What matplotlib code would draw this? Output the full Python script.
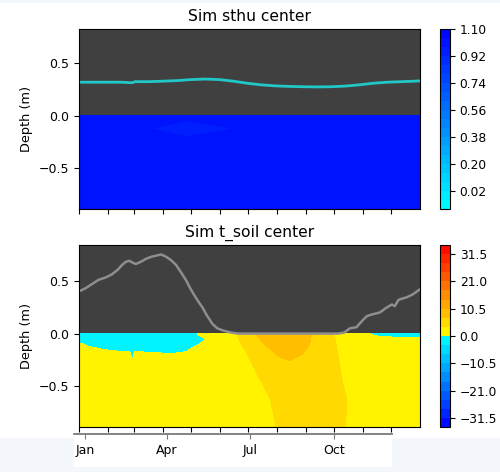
import numpy as np
import matplotlib
matplotlib.use("Agg")
import matplotlib.pyplot as plt
from matplotlib.colors import ListedColormap, LinearSegmentedColormap
from matplotlib.patches import Rectangle

# ---- time axis (day of year) ----
month_starts = [0, 31, 59, 90, 120, 151, 181, 212, 243, 273, 304, 334]
label_days = [0, 90, 181, 273]
label_names = ["Jan", "Apr", "Jul", "Oct"]

# ---- simulated soil moisture (sthu), rows = depth, cols = day ----
sthu_days = [0, 50, 115, 200, 365]
sthu_depths = [0.0, -0.12, -0.25, -0.5, -0.886]
sthu_values = [
    [1.00, 1.00, 1.00, 1.00, 1.00],
    [1.00, 1.00, 0.95, 1.00, 1.00],
    [1.00, 1.00, 1.00, 1.00, 1.00],
    [1.00, 1.00, 1.00, 1.00, 1.00],
    [1.00, 1.00, 1.00, 1.00, 1.00],
]

# water level line drawn over the sthu panel
level_days = [0, 15, 30, 45, 57, 60, 75, 90, 105, 120, 135, 150, 165, 180,
              195, 210, 225, 240, 255, 270, 285, 300, 315, 330, 345, 360, 365]
level_values = [0.32, 0.32, 0.32, 0.32, 0.315, 0.325, 0.325, 0.33, 0.335, 0.345,
                0.35, 0.345, 0.33, 0.31, 0.295, 0.285, 0.28, 0.277, 0.275, 0.277,
                0.283, 0.295, 0.31, 0.32, 0.325, 0.33, 0.333]

# ---- simulated soil temperature, one column per day ----
soil_depths = [0.0, -0.05, -0.1, -0.2, -0.3, -0.45, -0.6, -0.75, -0.886]
soil_days = [0, 10, 25, 45, 54, 57, 60, 80, 100, 115, 121, 127, 134, 142, 150,
             169, 180, 190, 200, 212, 225, 240, 249, 260, 272, 287, 300, 311,
             320, 340, 365]
soil_temp_by_day = [
    [-1.0, -0.8, 0.2, 0.6, 1.0, 1.4, 1.8, 2.0, 2.2],
    [-1.0, -0.6, -0.2, 0.8, 1.1, 1.4, 1.7, 1.9, 2.0],
    [-1.2, -0.8, -0.5, 0.5, 1.0, 1.3, 1.6, 1.8, 1.9],
    [-1.3, -1.0, -0.7, 0.3, 0.8, 1.2, 1.5, 1.7, 1.8],
    [-1.3, -1.0, -0.7, 0.3, 0.8, 1.2, 1.5, 1.7, 1.8],
    [-1.3, -1.0, -0.7, -0.3, 0.3, 1.0, 1.4, 1.6, 1.7],
    [-1.3, -1.0, -0.7, 0.3, 0.8, 1.2, 1.5, 1.7, 1.8],
    [-1.2, -1.0, -0.8, 0.2, 0.6, 1.0, 1.3, 1.5, 1.6],
    [-1.1, -1.0, -0.9, 0.1, 0.5, 0.9, 1.2, 1.4, 1.5],
    [-0.8, -0.8, -0.7, 0.3, 0.5, 0.8, 1.1, 1.3, 1.4],
    [-0.5, -0.5, -0.35, 0.65, 0.7, 0.8, 1.0, 1.2, 1.3],
    [0.05, -0.3, -0.05, 0.8, 0.8, 0.8, 1.0, 1.2, 1.3],
    [0.5, -0.1, 0.2, 0.7, 0.7, 0.8, 1.0, 1.2, 1.3],
    [1.0, 0.3, 0.3, 0.6, 0.7, 0.8, 1.0, 1.2, 1.3],
    [1.5, 1.0, 0.6, 0.5, 0.6, 0.9, 1.2, 1.4, 1.5],
    [3.55, 3.2, 2.9, 2.4, 1.9, 1.5, 1.4, 1.5, 1.6],
    [5.5, 4.8, 4.2, 3.4, 2.9, 2.3, 1.9, 1.8, 1.8],
    [7.05, 6.5, 6.0, 4.9, 3.9, 3.1, 2.6, 2.4, 2.3],
    [8.5, 7.9, 7.1, 6.0, 5.0, 3.9, 3.2, 3.0, 2.9],
    [9.5, 8.6, 7.9, 7.05, 6.0, 4.8, 4.1, 3.75, 3.55],
    [9.8, 8.9, 8.2, 7.6, 6.6, 5.3, 4.6, 4.3, 4.1],
    [8.5, 7.9, 7.6, 6.9, 6.3, 5.4, 4.9, 4.6, 4.4],
    [6.95, 6.9, 6.8, 6.3, 5.9, 5.2, 4.8, 4.6, 4.45],
    [5.5, 5.3, 5.2, 5.1, 5.0, 4.8, 4.6, 4.5, 4.4],
    [3.45, 3.7, 3.8, 4.0, 4.1, 4.2, 4.2, 4.1, 4.0],
    [2.0, 2.2, 2.3, 2.5, 2.8, 3.1, 3.45, 3.45, 3.45],
    [1.2, 1.3, 1.4, 1.5, 1.7, 2.0, 2.4, 2.6, 2.7],
    [-0.02, 0.5, 0.9, 1.4, 1.7, 2.0, 2.3, 2.5, 2.6],
    [-0.3, 0.3, 0.7, 1.2, 1.5, 1.9, 2.2, 2.4, 2.5],
    [-0.5, 0.2, 0.5, 1.0, 1.3, 1.7, 2.0, 2.2, 2.3],
    [-0.6, 0.15, 0.4, 0.8, 1.1, 1.5, 1.8, 2.0, 2.2],
]

# snow depth line drawn over the temperature panel
snow_days = [0, 7, 14, 21, 28, 35, 42, 46, 50, 54, 58, 61, 66, 72, 78, 83, 88,
             93, 98, 104, 110, 115, 119, 123, 128, 132, 137, 143, 148, 154, 160,
             166, 172, 277, 284, 290, 297, 303, 308, 313, 322, 329, 335, 338,
             342, 351, 357, 365]
snow_values = [0.40, 0.43, 0.47, 0.51, 0.53, 0.56, 0.61, 0.65, 0.68, 0.69, 0.67,
               0.66, 0.68, 0.71, 0.73, 0.74, 0.75, 0.73, 0.70, 0.65, 0.57, 0.50,
               0.43, 0.37, 0.30, 0.25, 0.17, 0.09, 0.05, 0.03, 0.015, 0.005, 0.0,
               0.0, 0.01, 0.05, 0.06, 0.12, 0.165, 0.18, 0.20, 0.245, 0.276, 0.26,
               0.32, 0.345, 0.37, 0.42]

sthu_ticks = [0.02, 0.20, 0.38, 0.56, 0.74, 0.92, 1.10]
temp_ticks = [-31.5, -21.0, -10.5, 0.0, 10.5, 21.0, 31.5]

# ---- colour maps ----
sthu_cmap = LinearSegmentedColormap.from_list("sthu", ["#00ffff", "#0000ff"])
ramp = np.linspace(0, 1, 128)
cold = np.column_stack([np.zeros(128), ramp, np.ones(128)])        # blue -> cyan
warm = np.column_stack([np.ones(128), 1 - ramp, np.zeros(128)])    # yellow -> red
temp_cmap = ListedColormap(np.vstack([cold, warm]), name="tsoil")

sthu_levels = np.linspace(-0.10, 1.10, 21)
temp_levels = np.linspace(-35, 35, 21)

W, H = 500, 472
fig = plt.figure(figsize=(W / 100, H / 100), dpi=100)
fig.patch.set_facecolor("white")

def fx(px):
    return px / W

def fy(py):
    return 1 - py / H

# light page background around the lower label strip
page = "#f3f7fb"
fig.patches.append(Rectangle((0, 0), 1, fy(438), transform=fig.transFigure,
                             facecolor=page, edgecolor="none", zorder=-2))
fig.patches.append(Rectangle((fx(74), fy(467)), fx(392) - fx(74), fy(438) - fy(467),
                             transform=fig.transFigure, facecolor="white",
                             edgecolor="none", zorder=-1))
fig.patches.append(Rectangle((0, fy(3)), 1, 1 - fy(3), transform=fig.transFigure,
                             facecolor=page, edgecolor="none", zorder=-2))

bg = "#404040"
tick_fs = 9
label_fs = 9.3
title_fs = 11.2

def style_panel(ax, title, ylim):
    ax.set_facecolor(bg)
    ax.set_xlim(0, 365)
    ax.set_ylim(*ylim)
    ax.set_xticks(month_starts)
    ax.set_xticklabels([])
    ax.set_yticks([-0.5, 0.0, 0.5])
    ax.tick_params(axis="both", direction="out", length=3.5, labelsize=tick_fs)
    ax.set_ylabel("Depth (m)", fontsize=label_fs)
    ax.set_title(title, fontsize=title_fs)

# top panel: sthu
ax1 = fig.add_axes([fx(79), fy(209), fx(420) - fx(79), fy(29) - fy(209)])
cs1 = ax1.contourf(sthu_days, sthu_depths, np.array(sthu_values),
                   levels=sthu_levels, cmap=sthu_cmap)
ax1.plot(level_days, level_values, color="#22c8c8", lw=2)
style_panel(ax1, "Sim sthu center", (-0.886, 0.826))

cax1 = fig.add_axes([fx(440), fy(209), fx(450) - fx(440), fy(29) - fy(209)])
cb1 = fig.colorbar(cs1, cax=cax1, ticks=sthu_ticks)
cb1.ax.tick_params(labelsize=8.8, length=3.5)
cb1.ax.set_yticklabels(["%.2f" % t for t in sthu_ticks])

# bottom panel: soil temperature
ax2 = fig.add_axes([fx(79), fy(427), fx(420) - fx(79), fy(245) - fy(427)])
cs2 = ax2.contourf(soil_days, soil_depths, np.array(soil_temp_by_day).T,
                   levels=temp_levels, cmap=temp_cmap)
ax2.plot(snow_days, snow_values, color="#8e8e8e", lw=1.8)
style_panel(ax2, "Sim t_soil center", (-0.886, 0.84))

cax2 = fig.add_axes([fx(440), fy(427), fx(450) - fx(440), fy(245) - fy(427)])
cb2 = fig.colorbar(cs2, cax=cax2, ticks=temp_ticks)
cb2.ax.tick_params(labelsize=8.8, length=3.5)

# month strip below
ax3 = fig.add_axes([fx(74), fy(434), fx(392) - fx(74), 0.0005])
ax3.set_facecolor("none")
for side in ("left", "right", "top"):
    ax3.spines[side].set_visible(False)
ax3.spines["bottom"].set_color("#7a7a7a")
ax3.spines["bottom"].set_linewidth(1.3)
ax3.set_xlim(-12, 337)
ax3.set_yticks([])
ax3.set_xticks(label_days)
ax3.set_xticklabels(label_names)
ax3.tick_params(axis="x", direction="out", length=3.5, labelsize=tick_fs,
                color="#7a7a7a")

fig.savefig("out.png", dpi=100, facecolor=fig.get_facecolor())
